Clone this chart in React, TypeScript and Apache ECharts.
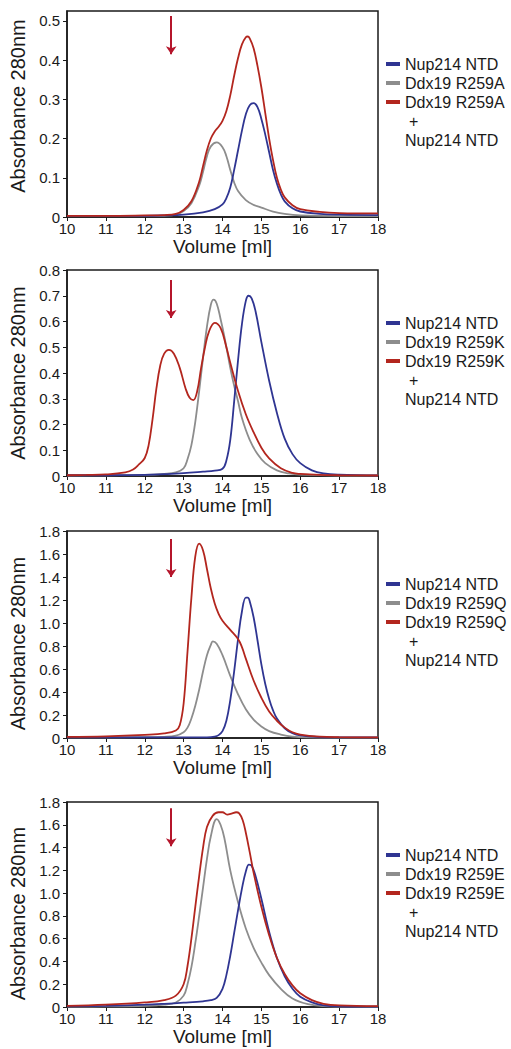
import React, { useEffect, useRef } from 'react';
import * as echarts from 'echarts';

// ---------- data ----------
const volumeTicks = [10, 11, 12, 13, 14, 15, 16, 17, 18];
const mutants = ['R259A', 'R259K', 'R259Q', 'R259E'];
const yMaxes = [0.525, 0.8, 1.8, 1.8];
const yTicksA = [0, 0.1, 0.2, 0.3, 0.4, 0.5];
const yTicksK = [0, 0.1, 0.2, 0.3, 0.4, 0.5, 0.6, 0.7, 0.8];
const yTicksQ = [0, 0.2, 0.4, 0.6, 0.8, 1.0, 1.2, 1.4, 1.6, 1.8];
const yTicksE = [0, 0.2, 0.4, 0.6, 0.8, 1.0, 1.2, 1.4, 1.6, 1.8];
const arrowVolume = 12.68;
const arrowTops = [0.512, 0.761, 1.73, 1.745];
const arrowTips = [0.415, 0.614, 1.4, 1.412];

// Panel A: Ddx19 R259A
const nupA = [[10,0.003],[11,0.003],[12,0.003],[12.5,0.004],[13,0.006],[13.5,0.012],[13.8,0.02],[14.0,0.032],[14.1,0.048],[14.2,0.075],[14.3,0.12],[14.4,0.17],[14.5,0.22],[14.6,0.262],[14.7,0.285],[14.8,0.29],[14.9,0.28],[15.0,0.25],[15.1,0.21],[15.2,0.165],[15.3,0.12],[15.4,0.085],[15.5,0.058],[15.6,0.04],[15.8,0.022],[16.0,0.014],[16.5,0.008],[17,0.006],[18,0.005]];
const ddxA = [[10,0.002],[12,0.002],[12.5,0.003],[12.8,0.006],[13.0,0.015],[13.2,0.035],[13.4,0.08],[13.5,0.115],[13.6,0.155],[13.7,0.18],[13.85,0.19],[14.0,0.178],[14.1,0.155],[14.2,0.12],[14.3,0.088],[14.4,0.066],[14.6,0.043],[14.8,0.031],[15.0,0.024],[15.3,0.014],[15.6,0.008],[16.0,0.004],[17,0.002],[18,0.002]];
const mixA = [[10,0.003],[11,0.003],[12,0.004],[12.5,0.005],[12.8,0.008],[13.0,0.018],[13.2,0.04],[13.4,0.09],[13.5,0.13],[13.6,0.17],[13.7,0.2],[13.8,0.218],[13.9,0.23],[14.0,0.245],[14.1,0.27],[14.2,0.31],[14.3,0.36],[14.4,0.405],[14.5,0.44],[14.6,0.458],[14.65,0.46],[14.7,0.455],[14.8,0.43],[14.9,0.385],[15.0,0.33],[15.1,0.265],[15.2,0.2],[15.3,0.145],[15.4,0.1],[15.5,0.07],[15.6,0.05],[15.8,0.03],[16.0,0.02],[16.5,0.013],[17,0.01],[18,0.009]];

// Panel K: Ddx19 R259K
const nupK = [[10,0.003],[11,0.003],[12,0.004],[12.5,0.007],[13,0.011],[13.5,0.017],[13.8,0.021],[14.0,0.028],[14.1,0.06],[14.2,0.14],[14.3,0.29],[14.4,0.45],[14.5,0.59],[14.6,0.68],[14.67,0.7],[14.75,0.69],[14.85,0.64],[15.0,0.52],[15.2,0.37],[15.4,0.245],[15.6,0.145],[15.8,0.085],[16.0,0.05],[16.3,0.022],[16.6,0.01],[17,0.005],[18,0.002]];
const ddxK = [[10,0.002],[11,0.003],[12,0.004],[12.5,0.008],[12.8,0.014],[13.0,0.03],[13.1,0.065],[13.2,0.12],[13.3,0.21],[13.4,0.33],[13.5,0.46],[13.6,0.58],[13.7,0.665],[13.77,0.685],[13.85,0.67],[13.95,0.61],[14.05,0.54],[14.2,0.42],[14.3,0.35],[14.4,0.29],[14.5,0.225],[14.7,0.14],[14.9,0.085],[15.1,0.05],[15.4,0.022],[15.7,0.01],[16,0.005],[17,0.002],[18,0.002]];
const mixK = [[10,0.003],[10.5,0.004],[11,0.006],[11.5,0.014],[11.7,0.025],[11.85,0.045],[12.0,0.07],[12.1,0.12],[12.2,0.22],[12.3,0.34],[12.4,0.43],[12.5,0.475],[12.62,0.49],[12.75,0.475],[12.9,0.42],[13.05,0.34],[13.15,0.305],[13.25,0.295],[13.35,0.33],[13.45,0.42],[13.55,0.5],[13.65,0.56],[13.8,0.595],[13.95,0.575],[14.1,0.5],[14.2,0.44],[14.4,0.33],[14.6,0.24],[14.8,0.17],[15.0,0.11],[15.2,0.068],[15.5,0.03],[15.8,0.012],[16.0,0.008],[16.5,0.004],[17,0.003],[18,0.002]];

// Panel Q: Ddx19 R259Q
const nupQ = [[10,0.005],[12,0.005],[13,0.005],[13.6,0.006],[13.8,0.012],[13.9,0.025],[14.0,0.06],[14.1,0.15],[14.2,0.33],[14.3,0.58],[14.4,0.86],[14.5,1.1],[14.6,1.22],[14.65,1.22],[14.7,1.19],[14.8,1.05],[14.9,0.85],[15.0,0.64],[15.1,0.47],[15.2,0.34],[15.3,0.24],[15.4,0.17],[15.6,0.085],[15.8,0.042],[16.0,0.022],[16.5,0.008],[17,0.005],[18,0.005]];
const ddxQ = [[10,0.005],[12,0.007],[12.5,0.01],[12.8,0.02],[13.0,0.05],[13.1,0.09],[13.2,0.17],[13.3,0.28],[13.4,0.42],[13.5,0.58],[13.6,0.72],[13.7,0.81],[13.75,0.84],[13.85,0.82],[14.0,0.72],[14.2,0.54],[14.4,0.38],[14.6,0.25],[14.8,0.16],[15.0,0.1],[15.2,0.06],[15.5,0.03],[15.8,0.012],[16.2,0.005],[17,0.003],[18,0.003]];
const mixQ = [[10,0.01],[11,0.015],[12,0.028],[12.5,0.04],[12.8,0.065],[12.9,0.11],[13.0,0.3],[13.1,0.75],[13.2,1.22],[13.3,1.58],[13.4,1.69],[13.5,1.63],[13.6,1.47],[13.7,1.3],[13.8,1.17],[13.9,1.08],[14.0,1.02],[14.2,0.94],[14.4,0.86],[14.5,0.79],[14.6,0.69],[14.8,0.5],[15.0,0.35],[15.2,0.23],[15.4,0.15],[15.6,0.09],[15.8,0.05],[16.0,0.03],[16.5,0.012],[17,0.007],[18,0.005]];

// Panel E: Ddx19 R259E
const nupE = [[10,0.005],[11,0.01],[12,0.02],[12.5,0.028],[13,0.038],[13.5,0.05],[13.7,0.06],[13.85,0.08],[14.0,0.16],[14.1,0.28],[14.2,0.45],[14.3,0.65],[14.4,0.85],[14.5,1.04],[14.6,1.19],[14.68,1.25],[14.75,1.24],[14.85,1.15],[15.0,0.95],[15.2,0.66],[15.4,0.43],[15.6,0.27],[15.8,0.16],[16.0,0.09],[16.3,0.04],[16.6,0.015],[17,0.006],[18,0.003]];
const ddxE = [[10,0.003],[11,0.005],[12,0.01],[12.5,0.02],[12.8,0.04],[13.0,0.1],[13.1,0.2],[13.2,0.35],[13.3,0.56],[13.4,0.8],[13.5,1.05],[13.6,1.3],[13.7,1.5],[13.85,1.65],[13.95,1.6],[14.05,1.48],[14.2,1.2],[14.4,0.92],[14.6,0.69],[14.8,0.52],[15.0,0.39],[15.2,0.28],[15.5,0.16],[15.8,0.075],[16.2,0.025],[16.6,0.008],[17,0.004],[18,0.002]];
const mixE = [[10,0.01],[11,0.02],[12,0.04],[12.5,0.06],[12.8,0.1],[13.0,0.2],[13.1,0.36],[13.2,0.6],[13.3,0.88],[13.4,1.15],[13.5,1.4],[13.6,1.58],[13.75,1.68],[13.9,1.71],[14.0,1.71],[14.12,1.69],[14.25,1.7],[14.35,1.71],[14.43,1.7],[14.52,1.64],[14.6,1.53],[14.7,1.36],[14.8,1.18],[15.0,0.88],[15.2,0.63],[15.4,0.43],[15.6,0.29],[15.8,0.19],[16.0,0.12],[16.3,0.06],[16.6,0.028],[17,0.014],[18,0.008]];

const nupSeries = [nupA, nupK, nupQ, nupE];
const ddxSeries = [ddxA, ddxK, ddxQ, ddxE];
const mixSeries = [mixA, mixK, mixQ, mixE];
const yTickSets = [yTicksA, yTicksK, yTicksQ, yTicksE];

const NUP = 'Nup214 NTD';
const BLUE = '#2f3592';
const GRAY = '#8d8d8d';
const RED = '#b3261e';
const ARROW = '#b5152b';
const INK = '#1a1a1a';
const FONT = '"Liberation Sans", Arial, Helvetica, sans-serif';

const gridTops = [11, 270, 531, 802];
const gridHeights = [206, 206, 207, 205];
const ROW = 19;
const yNamePads = [[0, 0, 0, 16], [0, 0, 0, 0], [0, 18, 0, 0], [0, 18, 0, 0]];

function buildOption() {
  const grid: any[] = [];
  const xAxis: any[] = [];
  const yAxis: any[] = [];
  const series: any[] = [];
  const legend: any[] = [];
  const graphic: any[] = [];

  mutants.forEach((m, i) => {
    const ddxName = 'Ddx19 ' + m;
    const mixName = 'Ddx19 ' + m + ' + ' + NUP;
    grid.push({
      left: 67, width: 311, top: gridTops[i], height: gridHeights[i],
      show: true, borderColor: INK, borderWidth: 1.5, backgroundColor: 'transparent',
    });
    xAxis.push({
      type: 'value', gridIndex: i, min: 10, max: 18, interval: 1,
      axisLine: { show: true, lineStyle: { color: INK, width: 1.5 } },
      axisTick: { show: true, length: 4, lineStyle: { color: INK, width: 1 }, customValues: volumeTicks },
      axisLabel: { color: INK, fontSize: 15, margin: 4, fontFamily: FONT, customValues: volumeTicks },
      splitLine: { show: false },
      name: 'Volume [ml]', nameLocation: 'middle', nameGap: 20,
      nameTextStyle: { color: INK, fontSize: 19, fontFamily: FONT },
    });
    const step = yTickSets[i][1];
    yAxis.push({
      type: 'value', gridIndex: i, min: 0, max: yMaxes[i], interval: step,
      axisLine: { show: true, lineStyle: { color: INK, width: 1.5 } },
      axisTick: { show: true, length: 4, lineStyle: { color: INK, width: 1 }, customValues: yTickSets[i] },
      axisLabel: {
        color: INK, fontSize: 15, margin: 7, fontFamily: FONT, customValues: yTickSets[i],
        formatter: (v: number) => {
          const k = Math.round(v / step);
          if (Math.abs(k * step - v) > 1e-6) return '';
          return v === 0 ? '0' : v.toFixed(1);
        },
      },
      splitLine: { show: false },
      name: 'Absorbance 280nm', nameLocation: 'middle', nameRotate: 90, nameGap: 36,
      nameTextStyle: { color: INK, fontSize: 20, fontFamily: FONT, padding: yNamePads[i] },
    });
    const common = {
      type: 'line', xAxisIndex: i, yAxisIndex: i, showSymbol: false, symbol: 'none',
      smooth: 0.4, silent: true,
    };
    series.push({ ...common, name: ddxName, data: ddxSeries[i], lineStyle: { color: GRAY, width: 1.8 }, itemStyle: { color: GRAY }, z: 2 });
    series.push({ ...common, name: NUP, data: nupSeries[i], lineStyle: { color: BLUE, width: 1.8 }, itemStyle: { color: BLUE }, z: 3 });
    series.push({
      ...common, name: mixName, data: mixSeries[i], lineStyle: { color: RED, width: 1.8 }, itemStyle: { color: RED }, z: 4,
      markLine: {
        silent: true, symbol: ['none', 'arrow'], symbolSize: [8, 8], label: { show: false },
        lineStyle: { color: ARROW, width: 2, type: 'solid' },
        data: [[{ coord: [arrowVolume, arrowTops[i]] }, { coord: [arrowVolume, arrowTips[i]] }]],
      },
    });
    const firstRow = gridTops[i] + 53;
    legend.push({
      orient: 'vertical', left: 386, top: firstRow - ROW / 2, padding: 0,
      itemWidth: 14, itemHeight: 4, itemGap: 0,
      icon: 'rect', selectedMode: false,
      data: [NUP, ddxName, mixName],
      textStyle: { color: INK, fontSize: 16, fontFamily: FONT, lineHeight: ROW, height: ROW },
      formatter: (name: string) => (name.indexOf(' + ') >= 0 ? name.split(' + ')[0] : name),
    });
    graphic.push({
      type: 'text', x: 409, y: firstRow + 3 * ROW,
      style: { text: '+', fill: INK, font: '16px ' + FONT, verticalAlign: 'middle' },
    });
    graphic.push({
      type: 'text', x: 405, y: firstRow + 4 * ROW,
      style: { text: NUP, fill: INK, font: '16px ' + FONT, verticalAlign: 'middle' },
    });
  });

  return {
    animation: false,
    backgroundColor: '#ffffff',
    textStyle: { fontFamily: FONT },
    grid, xAxis, yAxis, series, legend, graphic,
  };
}

export default function App() {
  const ref = useRef<HTMLDivElement>(null);
  useEffect(() => {
    if (!ref.current) return;
    const chart = echarts.init(ref.current, undefined, { renderer: 'svg' });
    chart.setOption(buildOption() as any);
    return () => chart.dispose();
  }, []);
  return (
    <div
      ref={ref}
      style={{ position: 'fixed', left: 0, top: 0, width: 511, height: 1049, background: '#fff' }}
    />
  );
}
